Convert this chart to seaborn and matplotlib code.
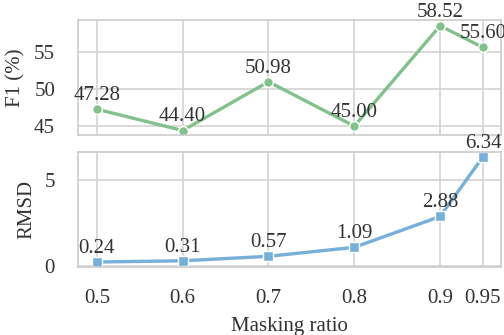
import matplotlib
matplotlib.use("Agg")
import matplotlib.pyplot as plt
import seaborn as sns
import pandas as pd

ratios = [0.5, 0.6, 0.7, 0.8, 0.9, 0.95]
tick_labels = ["0.5", "0.6", "0.7", "0.8", "0.9", "0.95"]
f1 = [47.28, 44.40, 50.98, 45.00, 58.52, 55.60]
rmsd = [0.24, 0.31, 0.57, 1.09, 2.88, 6.34]

sns.set_theme(style="whitegrid")
plt.rcParams['font.family'] = ['Liberation Serif', 'DejaVu Serif']
plt.rcParams['mathtext.fontset'] = 'stix'

df = pd.DataFrame({"ratio": ratios, "f1": f1, "rmsd": rmsd})

fig = plt.figure(figsize=(5.04, 3.35), dpi=100)
ax1 = fig.add_axes([78/504, 1-135/335, 423/504, 115/335])
ax2 = fig.add_axes([78/504, 1-267/335, 423/504, 115/335])

green = "#82c18a"
blue = "#76afd7"

sns.lineplot(data=df, x="ratio", y="f1", ax=ax1, color=green, linewidth=2.4,
             marker="o", markersize=7, markeredgecolor="white", markeredgewidth=1)
sns.lineplot(data=df, x="ratio", y="rmsd", ax=ax2, color=blue, linewidth=2.4,
             marker="s", markersize=7, markeredgecolor="white", markeredgewidth=1)

fs = 15
tc = "#333333"
for x, y in zip(ratios, f1):
    ax1.annotate(f"{y:.2f}", (x, y), xytext=(0, 3), textcoords="offset points",
                 ha="center", va="bottom", fontsize=fs, color=tc)
for x, y in zip(ratios, rmsd):
    ax2.annotate(f"{y:.2f}", (x, y), xytext=(0, 3), textcoords="offset points",
                 ha="center", va="bottom", fontsize=fs, color=tc)

for ax in (ax1, ax2):
    ax.set_xlim(0.478, 0.971)
    ax.set_xticks(ratios)
    ax.tick_params(labelsize=fs, colors=tc, length=0)
    ax.tick_params(axis="y", pad=16.5)
    for s in ax.spines.values():
        s.set_color("#cccccc")
        s.set_linewidth(1.2)
    ax.grid(True, color="#d3d3d3", linewidth=1.2)

ax1.set_ylim(43.8, 59.3)
ax1.set_yticks([45, 50, 55])
ax1.set_xticklabels([])
ax1.set_xlabel("")
ax1.set_ylabel("F1 (%)", fontsize=fs, color=tc, labelpad=6)

ax2.set_ylim(-0.05, 6.62)
ax2.set_yticks([0, 5])
ax2.set_xticklabels(tick_labels)
ax2.tick_params(axis="x", pad=16)
ax2.set_xlabel("Masking ratio", fontsize=fs, color=tc, labelpad=6)
ax2.set_ylabel("RMSD", fontsize=fs, color=tc, labelpad=6)

fig.savefig("out.png", dpi=100)
